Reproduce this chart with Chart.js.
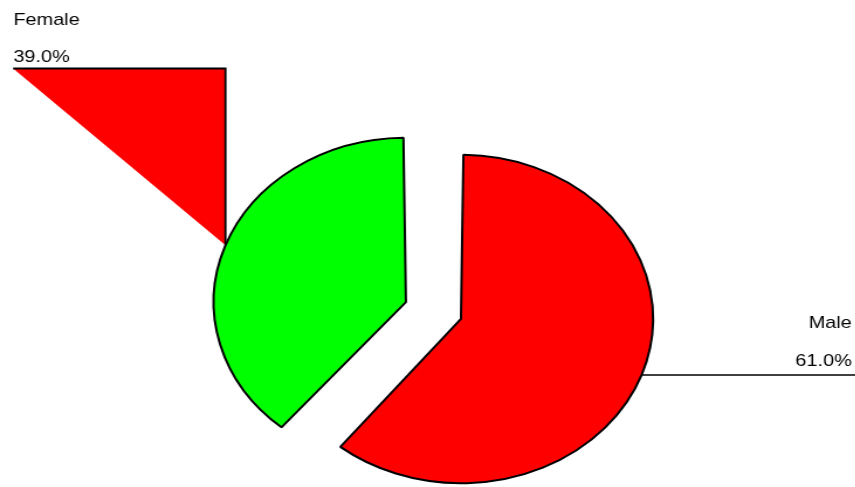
<!DOCTYPE html>
<html>
<head>
<meta charset="utf-8">
<script src="https://cdn.jsdelivr.net/npm/chart.js@4/dist/chart.umd.min.js"></script>
<style>
  html, body { margin: 0; padding: 0; background: #fff; overflow: hidden; width: 855px; height: 487px; }
  #pie { position: absolute; left: 0; top: 0; transform: scaleX(1.17); transform-origin: 0 0; }
</style>
</head>
<body>
<canvas id="pie" width="763" height="629"></canvas>
<script>
// data
const labels = ['Male', 'Female'];
const values = [61.0, 39.0];
const colors = ['#ff0000', '#00ff00'];

// exploded slices (per slice offset)
const offsets = [53, 147];

// arc centre + radius after offset, same maths as ArcElement.draw
function arcGeom(el) {
    const off = (el.options.offset || 0) / 4;
    const mid = (el.startAngle + el.endAngle) / 2;
    const fix = 1 - Math.sin(Math.min(Math.PI, el.circumference));
    return {
        cx: el.x + Math.cos(mid) * off,
        cy: el.y + Math.sin(mid) * off,
        r: el.outerRadius + off * fix
    };
}

const labelPlugin = {
    id: 'labels',
    afterDatasetsDraw(chart) {
        const ctx = chart.ctx;
        const arcs = chart.getDatasetMeta(0).data;
        const total = values.reduce((a, b) => a + b, 0);
        const pct = i => (values[i] / total * 100).toFixed(1) + '%';

        ctx.save();
        ctx.font = '17px "Liberation Sans", Arial, sans-serif';
        ctx.fillStyle = '#000';

        // Male - horizontal leader to the right
        const m = arcGeom(arcs[0]);
        const lineY = 375;
        const mx = m.cx + Math.sqrt(m.r * m.r - (lineY - m.cy) * (lineY - m.cy));
        ctx.strokeStyle = '#000';
        ctx.lineWidth = 1.5;
        ctx.beginPath();
        ctx.moveTo(mx, lineY);
        ctx.lineTo(chart.width, lineY);
        ctx.stroke();
        ctx.textAlign = 'right';
        ctx.textBaseline = 'alphabetic';
        ctx.fillText(labels[0], 728, 328);
        ctx.fillText(pct(0), 728, 366);

        // Female - filled leader up to the left
        const f = arcGeom(arcs[1]);
        const lineX = 192.7;
        const topY = 68.5;
        const leftX = 11.2;
        const fy = f.cy - Math.sqrt(f.r * f.r - (lineX - f.cx) * (lineX - f.cx));
        ctx.fillStyle = colors[0];
        ctx.beginPath();
        ctx.moveTo(leftX, topY);
        ctx.lineTo(lineX, topY);
        ctx.lineTo(lineX, fy);
        ctx.closePath();
        ctx.fill();
        ctx.lineWidth = 1.8;
        ctx.beginPath();
        ctx.moveTo(leftX, topY);
        ctx.lineTo(lineX, topY);
        ctx.lineTo(lineX, fy);
        ctx.stroke();

        ctx.fillStyle = '#000';
        ctx.textAlign = 'left';
        ctx.fillText(labels[1], 11.4, 25);
        ctx.fillText(pct(1), 11.4, 62);
        ctx.restore();
    }
};

new Chart(document.getElementById('pie'), {
    type: 'pie',
    data: {
        labels: labels,
        datasets: [{
            data: values,
            backgroundColor: colors,
            borderColor: '#000',
            borderWidth: 2,
            offset: offsets,
            hoverOffset: 0,
            radius: 151
        }]
    },
    options: {
        responsive: false,
        animation: false,
        events: [],
        layout: { padding: 0 },
        plugins: {
            legend: { display: false },
            tooltip: { enabled: false }
        }
    },
    plugins: [labelPlugin]
});
</script>
</body>
</html>
